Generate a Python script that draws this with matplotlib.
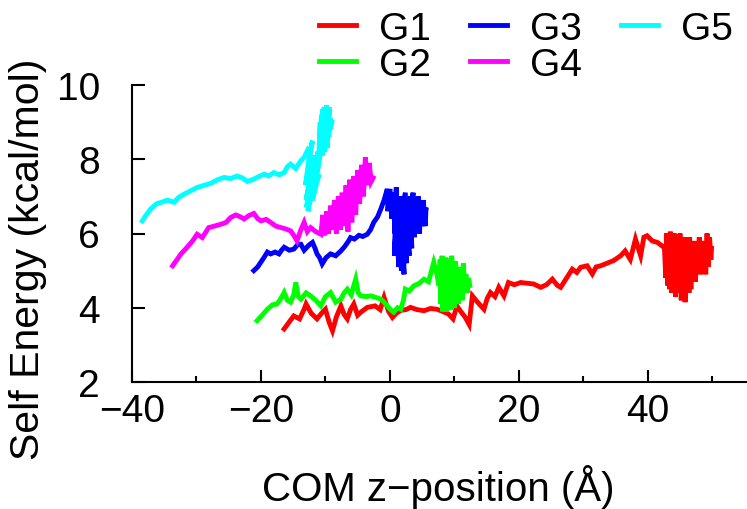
import matplotlib
matplotlib.use('Agg')
import matplotlib.pyplot as plt

plt.rcParams['font.family'] = ['Liberation Sans', 'DejaVu Sans']
plt.rcParams['font.size'] = 28

# G1 (red)
g1_x = [-16.4, -15.6, -14.9, -14.0, -13.3, -13.0, -12.2, -11.3, -10.6, -10.0, -9.4, -8.9, -8.3, -7.6,
        -7.1, -6.6, -6.1, -5.6, -5.0, -4.5, -3.5, -2.3, -1.5, -0.9, -0.2, 0.4, 1.0, 1.7, 2.5, 3.2,
        4.2, 5.3, 6.3, 7.3, 8.2, 9.1, 9.8, 10.4, 11.0, 11.7, 12.3, 12.8, 13.6, 14.6, 15.1, 15.6,
        16.3, 16.9, 17.7, 18.4, 19.3, 20.3, 21.3, 22.3, 23.4, 24.3, 25.2, 26.0, 26.5, 27.3, 28.3,
        29.0, 29.6, 30.6, 31.4, 32.0, 32.7, 33.7, 34.7, 35.8, 36.5, 37.3, 38.1, 38.9, 39.4, 39.9,
        40.7, 41.5, 42.5,
        42.6, 42.8, 42.9, 43.1, 43.2, 43.4, 43.5, 43.7, 43.8, 44.0, 44.1, 44.3, 44.4, 44.6, 44.7,
        44.9, 45.0, 45.2, 45.3, 45.5, 45.6, 45.8, 45.9, 46.1, 46.2, 46.4, 46.5, 46.7, 46.8, 47.0,
        47.2, 47.4, 47.6, 47.8, 48.0, 48.2, 48.4, 48.6, 48.8, 49.0, 49.2, 49.4, 49.6, 49.8, 49.9]
g1_y = [3.43, 3.62, 3.78, 3.70, 3.96, 4.10, 3.85, 3.70, 3.85, 3.96, 3.60, 3.38, 3.75, 4.05,
        3.82, 3.70, 3.95, 4.10, 3.80, 3.88, 4.01, 4.05, 3.95, 4.28, 3.90, 3.74, 3.85, 3.93, 3.95, 4.01,
        3.95, 3.92, 3.98, 3.96, 3.90, 3.83, 3.70, 4.05, 3.90, 3.74, 3.55, 4.32, 4.15, 3.96, 4.25, 4.41,
        4.30, 4.55, 4.32, 4.68, 4.62, 4.68, 4.66, 4.64, 4.55, 4.62, 4.77, 4.60, 4.55, 4.77, 5.04,
        4.95, 5.09, 5.13, 4.91, 5.10, 5.13, 5.20, 5.27, 5.40, 5.53, 5.30, 5.85, 5.40, 5.90, 5.94,
        5.80, 5.76, 5.63,
        5.6, 4.8, 6.0, 4.6, 5.9, 4.5, 6.05, 4.4, 5.8, 4.5, 6.0, 4.3, 5.9, 4.6, 5.7,
        4.4, 6.0, 4.2, 5.9, 4.5, 5.8, 4.15, 5.9, 4.6, 5.7, 4.4, 5.9, 4.5, 5.6, 4.9,
        5.8, 4.7, 5.7, 5.0, 5.9, 4.9, 5.8, 5.0, 5.6, 4.9, 6.0, 5.1, 5.9, 5.3, 5.6]

# G2 (green)
g2_x = [-20.6, -19.8, -19.0, -18.2, -17.5, -16.9, -16.4, -15.9, -15.4, -14.9, -14.6, -14.2, -13.8,
        -13.0, -12.3, -11.5, -10.7, -10.0, -9.2, -8.4, -7.6, -7.1, -6.6, -6.0, -5.3, -4.9, -4.5,
        -3.7, -3.0, -2.2, -1.4, -0.9, -0.4, 0.1, 0.6, 1.2, 1.7, 2.1, 2.4, 3.0, 3.7, 4.5, 5.3, 6.0,
        6.8, 7.3,
        7.6, 7.8, 7.9, 8.1, 8.2, 8.4, 8.5, 8.7, 8.8, 9.0, 9.1, 9.3, 9.4, 9.6, 9.7, 9.9, 10.0,
        10.2, 10.3, 10.5, 10.6, 10.8, 10.9, 11.1, 11.2, 11.4, 11.6, 11.8, 12.0, 12.2, 12.4]
g2_y = [3.65, 3.80, 3.96, 4.08, 4.10, 4.25, 4.41, 4.20, 4.15, 4.35, 4.68, 4.30, 4.23,
        4.40, 4.32, 4.20, 4.05, 4.30, 4.41, 4.15, 4.23, 4.40, 4.50, 4.35, 4.77, 4.40, 4.32,
        4.30, 4.32, 4.28, 4.23, 4.15, 4.05, 3.95, 3.88, 4.00, 3.96, 4.20, 4.50, 4.45, 4.59, 4.65, 4.77, 4.70,
        5.22, 4.90,
        4.6, 5.3, 4.1, 5.4, 3.9, 5.2, 4.0, 5.35, 3.9, 5.3, 4.1, 5.2, 3.95, 5.4, 4.2, 5.1, 4.0,
        5.25, 4.3, 5.0, 4.1, 5.1, 4.4, 4.9, 4.2, 5.2, 4.5, 4.9, 4.4, 4.8, 4.6]

# G3 (blue)
g3_x = [-21.1, -20.5, -19.5, -19.0, -18.5, -17.8, -17.2, -16.8, -16.4, -15.6, -14.9, -14.3, -13.8,
        -13.3, -12.6, -12.0, -11.6, -11.3, -10.9, -10.5, -9.9, -9.2, -8.4, -7.6, -7.0, -6.4, -6.1,
        -5.5, -4.8, -4.2, -3.5, -3.0, -2.5, -1.9, -1.4, -0.9, -0.4,
        -0.3, 0.0, 0.3, 0.5, 0.8, 1.0, 0.7, 1.2, 1.4, 1.0, 1.6, 1.8, 1.3, 2.0, 2.2, 1.6, 2.4, 2.6,
        2.0, 2.8, 3.0, 2.5, 3.2, 3.4, 3.0, 3.6, 3.8, 4.0, 4.2, 4.4, 4.6, 4.8, 5.0, 5.2, 5.4, 5.6,
        5.5, 5.2]
g3_y = [5.00, 5.10, 5.36, 5.50, 5.45, 5.50, 5.45, 5.55, 5.63, 5.55, 5.58, 5.70, 5.71,
        5.55, 5.68, 5.76, 5.60, 5.45, 5.35, 5.18, 5.35, 5.45, 5.40, 5.53, 5.65, 5.80, 5.89,
        5.85, 5.95, 5.92, 5.98, 6.10, 6.30, 6.45, 6.66, 6.90, 7.20,
        6.6, 7.2, 6.4, 7.1, 6.0, 7.25, 5.4, 6.9, 5.1, 6.2, 7.0, 5.0, 5.9, 6.8, 4.9, 6.4, 7.1, 5.2,
        6.0, 6.9, 5.4, 6.4, 7.0, 5.6, 6.3, 7.1, 5.9, 6.9, 6.1, 7.0, 6.0, 6.8, 6.2, 6.9, 6.3, 6.7,
        6.2, 6.5]

# G4 (magenta)
g4_x = [-33.7, -33.0, -32.4, -31.5, -30.6, -29.9, -29.1, -28.1, -27.2, -26.2, -25.4, -24.7, -23.9,
        -23.2, -22.6, -21.9, -21.1, -20.5, -20.0, -19.2, -18.5, -17.7, -16.9, -16.1, -15.4, -14.9,
        -14.4, -13.8, -13.3, -12.8, -12.3, -11.5, -10.7,
        -10.4, -10.1, -9.8, -9.5, -9.2, -8.9, -8.6, -8.3, -8.0, -7.7, -7.4, -7.1, -6.8, -6.5,
        -6.2, -5.9, -5.6, -5.3, -5.0, -4.7, -4.4, -4.1, -3.8, -3.5, -3.2, -2.9, -2.6]
g4_y = [5.13, 5.30, 5.45, 5.62, 5.80, 5.98, 5.89, 6.16, 6.20, 6.25, 6.30, 6.43, 6.50,
        6.45, 6.39, 6.48, 6.54, 6.40, 6.34, 6.38, 6.30, 6.20, 6.16, 6.12, 6.07, 5.95,
        5.80, 6.10, 6.30, 6.05, 6.16, 6.05, 5.98,
        6.5, 5.95, 6.6, 6.0, 6.75, 6.1, 6.9, 6.0, 7.0, 6.1, 7.1, 6.2, 7.3, 6.05,
        7.45, 6.3, 7.55, 6.5, 7.7, 6.8, 7.85, 7.0, 8.05, 7.3, 7.9, 7.4, 7.5]

# G5 (cyan)
g5_x = [-38.4, -37.8, -37.1, -36.2, -35.3, -34.5, -33.5, -32.7, -31.9, -30.9, -29.9, -28.8, -27.8,
        -26.7, -25.7, -24.7, -23.7, -22.9, -22.1, -21.3, -20.6, -19.5, -18.8, -18.0, -17.2, -16.4,
        -15.9, -15.4, -14.6, -13.8, -13.3, -12.8, -12.4, -12.0,
        -12.4, -13.1, -12.2, -12.9, -11.9, -13.0, -11.7, -12.7, -11.5, -12.5, -11.3, -12.3, -11.0,
        -12.0, -11.2, -11.6, -10.9,
        -11.0, -10.8, -10.9, -10.6, -10.7, -10.4, -10.5, -10.2, -10.3, -10.0, -10.1, -9.8, -9.9,
        -9.6, -9.7, -9.4, -9.5, -9.2, -9.3, -9.0]
g5_y = [6.34, 6.50, 6.66, 6.80, 6.85, 6.90, 6.84, 6.98, 7.06, 7.15, 7.24, 7.30, 7.35,
        7.45, 7.51, 7.48, 7.55, 7.50, 7.40, 7.45, 7.51, 7.60, 7.55, 7.64, 7.58, 7.64,
        7.80, 7.87, 7.75, 7.96, 8.05, 8.23, 8.10, 8.50,
        8.2, 7.3, 8.0, 6.7, 7.8, 6.9, 8.1, 6.6, 7.7, 6.8, 8.0, 7.0, 7.6,
        6.9, 8.2, 7.3, 8.0,
        8.2, 9.0, 8.0, 9.2, 8.3, 9.35, 8.1, 9.4, 8.4, 9.3, 8.2, 9.45, 8.5,
        9.2, 8.3, 9.4, 8.6, 9.1, 8.8, 9.0]

series = [('G1', g1_x, g1_y, '#ff0000'),
          ('G2', g2_x, g2_y, '#00ff00'),
          ('G3', g3_x, g3_y, '#0000ff'),
          ('G4', g4_x, g4_y, '#ff00ff'),
          ('G5', g5_x, g5_y, '#00ffff')]

W, H = 747, 510
fig = plt.figure(figsize=(W / 100, H / 100), dpi=100)
ax = fig.add_axes([132 / W, (H - 383) / H, (W - 132) / W, (383 - 86) / H])

for name, xs, ys, c in series:
    ax.plot(xs, ys, color=c, lw=3.5, label=name, solid_joinstyle='miter')

ax.set_xlim(-40, 55.4)
ax.set_ylim(2, 10)
ax.set_xticks([-40, -20, 0, 20, 40])
ax.set_xticklabels(['\u221240', '\u221220', '0', '20', '40'])
ax.set_xticks([-30, -10, 10, 30, 50], minor=True)
ax.set_yticks([2, 4, 6, 8, 10])

for s in ['top', 'right']:
    ax.spines[s].set_visible(False)
for s in ['left', 'bottom']:
    ax.spines[s].set_linewidth(1.5)

ax.tick_params(axis='both', which='major', direction='in', length=9, width=1.5)
ax.tick_params(axis='x', which='minor', direction='in', length=4.5, width=1.5)
ax.tick_params(axis='y', which='major', pad=23)
ax.tick_params(axis='x', which='major', pad=8)

fig.text(438 / W, 1 - 487 / H, 'COM z\u2212position (\u00c5)', ha='center', va='center', fontsize=29)
fig.text(28 / W, 1 - 259 / H, 'Self Energy (kcal/mol)', rotation=90, ha='center', va='center',
         fontsize=29.5)

fig.legend(ncol=3, loc='upper left', bbox_to_anchor=(319 / W, 1 - 12 / H), frameon=False,
           borderpad=0, borderaxespad=0, handlelength=0.95, handletextpad=0.6,
           columnspacing=1.0, labelspacing=0.0)

fig.savefig('out.png', dpi=100)
